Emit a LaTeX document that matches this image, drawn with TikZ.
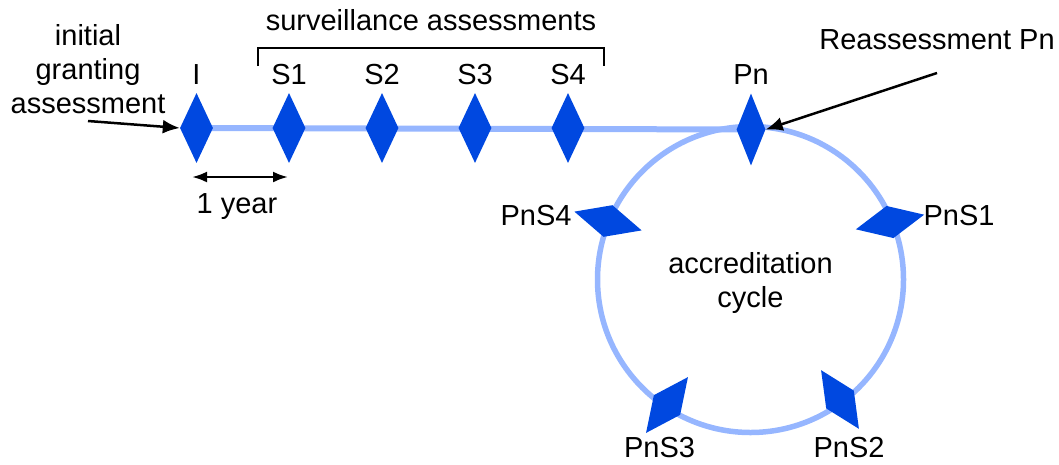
\documentclass[tikz,border=0pt]{standalone}
\usepackage{fontspec}
\setmainfont{Liberation Sans}
\usetikzlibrary{shapes.geometric,arrows.meta,backgrounds}
\definecolor{dblue}{RGB}{0,72,224}
\definecolor{lblue}{RGB}{150,182,255}
\tikzset{
  mark diamond/.style={diamond, fill=dblue, draw=none, inner sep=0pt,
    minimum width=33pt, minimum height=70pt},
  lbl/.style={font=\fontsize{29}{34}\selectfont, inner sep=0pt, align=center},
  timeline/.style={draw=lblue, line width=6pt},
  cyc/.style={draw=lblue, line width=5.5pt},
  callout/.style={draw=black, line width=2.5pt, -{Latex[length=17pt,width=14pt]}},
  span/.style={draw=black, line width=2.5pt, {Latex[length=15pt,width=11pt]}-{Latex[length=15pt,width=11pt]}},
  brace/.style={draw=black, line width=2pt}
}
\begin{document}
\begin{tikzpicture}[x=1pt,y=-1pt]
\useasboundingbox (0,0) rectangle (1059,464);
% timeline markers
\node[mark diamond] (I) at (196.5,128) {};
\node[mark diamond] (S1) at (289,128) {};
\node[mark diamond] (S2) at (382,128) {};
\node[mark diamond] (S3) at (475,128) {};
\node[mark diamond] (S4) at (568,128) {};
\node[mark diamond, minimum width=29pt, minimum height=72pt] (Pn) at (751,129.5) {};
% cycle markers
\node[mark diamond, rotate=-77.9] (PnS1) at (890,222) {};
\node[mark diamond, rotate=32.8] (PnS2) at (840,399.5) {};
\node[mark diamond, rotate=-36.9] (PnS3) at (667,405) {};
\node[mark diamond, rotate=74.4] (PnS4) at (608,221) {};
\coordinate (C) at (750.5,279.5);
\begin{scope}[on background layer]
  \draw[cyc] (C) circle[radius=153pt];
  \draw[timeline] (I.center) -- (Pn.center);
\end{scope}
% labels
\node[lbl] (lI) at (196.5,75) {I};
\node[lbl] (lS1) at (289,75) {S1};
\node[lbl] (lS2) at (382,75) {S2};
\node[lbl] (lS3) at (475,75) {S3};
\node[lbl] (lS4) at (568,75) {S4};
\node[lbl] (lPn) at (751,75) {Pn};
\node[lbl] (lPnS1) at (959,216) {PnS1};
\node[lbl] (lPnS2) at (849,448) {PnS2};
\node[lbl] (lPnS3) at (659.5,448) {PnS3};
\node[lbl] (lPnS4) at (536,216) {PnS4};
\node[lbl] (cycle) at (750.5,283) {accreditation\\cycle};
\node[lbl] (surv) at (431,20) {surveillance assessments};
\node[lbl] (init) at (88,69) {initial\\granting\\assessment};
\node[lbl] (reas) at (937,40) {Reassessment Pn};
\node[lbl] (year) at (237,207) {1 year};
% bracket
\coordinate (bl) at (258,66);
\coordinate (br) at (604,66);
\draw[brace] (bl) -- (258,48) -- (604,48) -- (br);
% arrows
\coordinate (initA) at (88,121);
\coordinate (reasA) at (937,73);
\draw[callout] (initA) -- (I.west);
\draw[callout] (reasA) -- (Pn.east);
\coordinate (yl) at (192,177);
\coordinate (yr) at (288,177);
\draw[span] (yl) -- (yr);
\end{tikzpicture}
\end{document}
